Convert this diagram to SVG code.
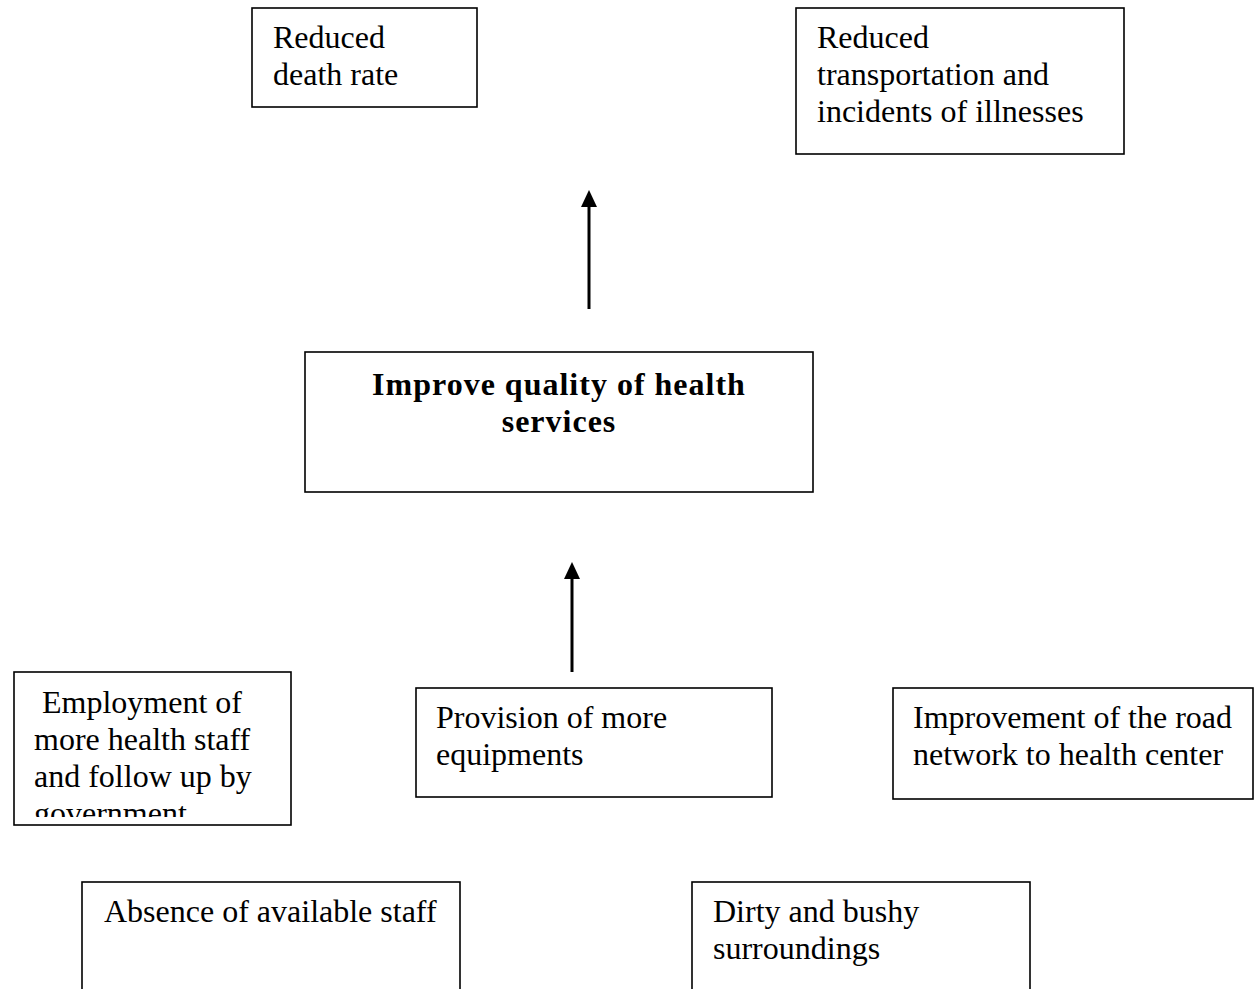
<svg xmlns="http://www.w3.org/2000/svg" width="1254" height="989" viewBox="0 0 1254 989">
  <style>
    .box { fill: #ffffff; stroke: #000000; stroke-width: 1.6; }
    .t { font-family: "Liberation Serif", "Times New Roman", serif; font-size: 32px; fill: #000000; }
    .tb { font-family: "Liberation Serif", "Times New Roman", serif; font-size: 32px; font-weight: bold; letter-spacing: 1px; fill: #000000; text-anchor: middle; }
    .link { stroke: #000000; stroke-width: 3; fill: none; }
  </style>
  <defs>
    <clipPath id="clip-employment">
      <rect x="14" y="672" width="277" height="145"/>
    </clipPath>
  </defs>
  <rect width="1254" height="989" fill="#ffffff"/>

  <g id="connectors">
    <line class="link" x1="589" y1="309" x2="589" y2="207"/>
    <path d="M589,190 L597,207 L581,207 Z" fill="#000000"/>
    <line class="link" x1="572" y1="672" x2="572" y2="578"/>
    <path d="M572,562 L580,579 L564,579 Z" fill="#000000"/>
  </g>

  <g id="reduced-death-rate">
    <rect class="box" x="252" y="8" width="225" height="99"/>
    <text class="t" x="273" y="48">Reduced</text>
    <text class="t" x="273" y="85">death rate</text>
  </g>

  <g id="reduced-transportation">
    <rect class="box" x="796" y="8" width="328" height="146"/>
    <text class="t" x="817" y="48">Reduced</text>
    <text class="t" x="817" y="85">transportation and</text>
    <text class="t" x="817" y="122">incidents of illnesses</text>
  </g>

  <g id="improve-quality">
    <rect class="box" x="305" y="352" width="508" height="140"/>
    <text class="tb" x="559" y="395">Improve quality of health</text>
    <text class="tb" x="559" y="432">services</text>
  </g>

  <g id="employment-staff">
    <rect class="box" x="14" y="672" width="277" height="153"/>
    <g clip-path="url(#clip-employment)">
      <text class="t" x="34" y="713" xml:space="preserve"> Employment of</text>
      <text class="t" x="34" y="750">more health staff</text>
      <text class="t" x="34" y="787">and follow up by</text>
      <text class="t" x="34" y="824">government</text>
    </g>
  </g>

  <g id="provision-equipments">
    <rect class="box" x="416" y="688" width="356" height="109"/>
    <text class="t" x="436" y="728">Provision of more</text>
    <text class="t" x="436" y="765">equipments</text>
  </g>

  <g id="road-network">
    <rect class="box" x="893" y="688" width="360" height="111"/>
    <text class="t" x="913" y="728">Improvement of the road</text>
    <text class="t" x="913" y="765">network to health center</text>
  </g>

  <g id="absence-staff">
    <rect class="box" x="82" y="882" width="378" height="120"/>
    <text class="t" x="104" y="922">Absence of available staff</text>
  </g>

  <g id="dirty-surroundings">
    <rect class="box" x="692" y="882" width="338" height="120"/>
    <text class="t" x="713" y="922">Dirty and bushy</text>
    <text class="t" x="713" y="959">surroundings</text>
  </g>
</svg>
